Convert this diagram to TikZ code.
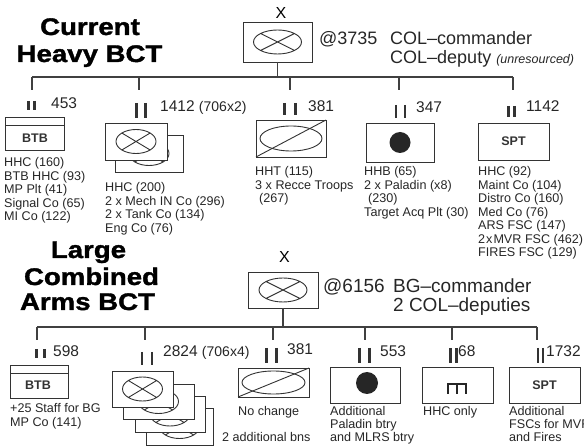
\documentclass[tikz,border=0pt]{standalone}
\usepackage{fontspec}
\setmainfont{Liberation Sans}
\newfontfamily\titlefont[FakeBold=1.5,FakeStretch=1.15]{Liberation Sans Bold}

\begin{document}
\begin{tikzpicture}[x=1pt,y=-1pt,
  unit/.style = {rectangle,draw=black!80,line width=0.9pt,fill=white,inner sep=0pt,outer sep=0pt},
  conn/.style = {draw=black!75,line width=1.1pt},
  bar/.style = {draw=black!80,line width=2.7pt},
  lbl/.style = {anchor=base west,inner sep=0pt,font=\fontsize{12.6}{13}\selectfont,text=black!85},
  num/.style = {anchor=base west,inner sep=0pt,font=\fontsize{15.5}{16}\selectfont,text=black!85},
  hdr/.style = {anchor=base west,inner sep=0pt,font=\fontsize{18}{20}\selectfont,text=black!85},
  ttl/.style = {anchor=base,inner sep=0pt,font=\titlefont\fontsize{24}{26}\selectfont},
  sym/.style = {inner sep=0pt,font=\bfseries\fontsize{12.5}{13}\selectfont,text=black!80},
  mech/.pic = {\draw[black!80,line width=0.9pt] (0,0) ellipse [x radius=20pt,y radius=12pt]
                 (45:20pt and 12pt) -- (225:20pt and 12pt) (135:20pt and 12pt) -- (315:20pt and 12pt);}]
\useasboundingbox (0,0) rectangle (584,446);

% titles
\node[ttl] (cur-a) at (90,35) {Current};
\node[ttl] (cur-b) at (89.5,62) {Heavy BCT};
\node[ttl] (lca-a) at (88.5,258) {Large};
\node[ttl] (lca-b) at (91.5,285) {Combined};
\node[ttl] (lca-c) at (87.5,310) {Arms BCT};

% current heavy BCT
\node[inner sep=0pt,font=\fontsize{16}{16}\selectfont] (x1) at (281,13) {X};
\node[unit,minimum width=69pt,minimum height=40pt] (hq1) at (277.5,42) {};
\pic[xscale=1.2] at (hq1) {mech};
\node[hdr] (hq1-n) at (319,45) {@3735};
\node[hdr] (hq1-c) at (390,45) {COL--commander};
\node[hdr] (hq1-d) at (390,64) {COL--deputy {\itshape\fontsize{12.5}{13}\selectfont(unresourced)}};

\coordinate (bus1) at (277.5,77);
\foreach \n/\x in {a/32, b/139, c/290, d/399, e/513}
    \coordinate (tk1\n) at (\x,90);
\draw[conn] (hq1.south) -- (bus1);
\draw[conn] (tk1a |- bus1) -- (tk1e |- bus1);
\foreach \n in {a,...,e}
    \draw[conn] (tk1\n |- bus1) -- (tk1\n);

\foreach \x/\y/\h/\d in {31.5/101/9/3, 141/103/15/4.5, 290/103/12/5.5, 400.5/105/13/4.5, 511.5/106/11/3}
    \draw[bar] (\x-\d,\y) -- ++(0,\h) (\x+\d,\y) -- ++(0,\h);

\node[num] (n453) at (51,109) {453};
\node[num] (n1412) at (160,112) {1412 {\fontsize{14}{14}\selectfont(706x2)}};
\node[num] (n381a) at (308,112) {381};
\node[num] (n347) at (416,113) {347};
\node[num] (n1142) at (526,112) {1142};

\node[unit,minimum width=59pt,minimum height=33pt] (btb1) at (34.5,133.5) {};
\draw[draw=black!80,line width=0.9pt] (btb1.west |- 0,125) -- (btb1.east |- 0,125);
\node[sym] (btb1-t) at (35,138) {BTB};

\node[unit,minimum width=68pt,minimum height=37pt] (mech1b) at (149,153.5) {};
\pic at (mech1b) {mech};
\node[unit,minimum width=62pt,minimum height=37pt] (mech1) at (136,141.5) {};
\pic at (mech1) {mech};

\node[unit,minimum width=70pt,minimum height=37pt] (cav1) at (291,138.5) {};
\draw[draw=black!80,line width=0.9pt] (cav1) ellipse [x radius=31pt,y radius=12.5pt];
\draw[draw=black!80,line width=0.9pt] (cav1.south west) -- (cav1.north east);

\node[unit,minimum width=68pt,minimum height=39pt] (fa1) at (400,142.5) {};
\fill[black!85] (fa1) circle [radius=10.5pt];

\node[unit,minimum width=71pt,minimum height=37pt] (spt1) at (513.5,141.5) {};
\node[sym] (spt1-t) at (spt1) {SPT};

\foreach \t [count=\j from 0] in {HHC (160), BTB HHC (93), MP Plt (41), Signal Co (65), MI Co (122)}
    \node[lbl] (btb1-\j) at (4,167+13.5*\j) {\t};
\foreach \t [count=\j from 0] in {HHC (200), 2 x Mech IN Co (296), 2 x Tank Co (134), Eng Co (76)}
    \node[lbl] (mech1-\j) at (105,192+13.5*\j) {\t};
\foreach \t [count=\j from 0] in {HHT (115), 3 x Recce Troops, \hspace*{4pt}(267)}
    \node[lbl] (cav1-\j) at (255,176+13.5*\j) {\t};
\foreach \t [count=\j from 0] in {HHB (65), 2 x Paladin (x8), \hspace*{4pt}(230), Target Acq Plt (30)}
    \node[lbl] (fa1-\j) at (364,176+13.5*\j) {\t};
\foreach \t [count=\j from 0] in {HHC (92), Maint Co (104), Distro Co (160), Med Co (76), ARS FSC (147), 2\kern1pt x\kern1pt MVR FSC (462), FIRES FSC (129)}
    \node[lbl] (spt1-\j) at (478,176+13.5*\j) {\t};

% large combined arms BCT
\node[inner sep=0pt,font=\fontsize{16}{16}\selectfont] (x2) at (284.5,257) {X};
\node[unit,minimum width=70pt,minimum height=36pt] (hq2) at (283,290) {};
\pic[xscale=1.2] at (hq2) {mech};
\node[hdr,font=\fontsize{19}{20}\selectfont] (hq2-n) at (323,293) {@6156};
\node[hdr,font=\fontsize{19}{20}\selectfont] (hq2-c) at (393,293) {BG--commander};
\node[hdr,font=\fontsize{19}{20}\selectfont] (hq2-d) at (393,312) {2 COL--deputies};

\coordinate (bus2) at (283,327);
\foreach \n/\x in {a/37, b/145, c/273, d/365, e/452, f/537}
    \coordinate (tk2\n) at (\x,340);
\draw[conn] (hq2.south) -- (bus2);
\draw[conn] (tk2a |- bus2) -- (tk2f |- bus2);
\foreach \n in {a,...,f}
    \draw[conn] (tk2\n |- bus2) -- (tk2\n);

\foreach \x/\y/\h/\d in {40.5/349/9/3.8, 147/352/13/5, 271.5/348/15/5, 364.5/348/15/5, 453.5/348/15/3, 540.5/348/15/2.5}
    \draw[bar] (\x-\d,\y) -- ++(0,\h) (\x+\d,\y) -- ++(0,\h);

\node[num] (n598) at (53,357) {598};
\node[num] (n2824) at (163,357) {2824 {\fontsize{14}{14}\selectfont(706x4)}};
\node[num] (n381b) at (287,355) {381};
\node[num] (n553) at (380,357) {553};
\node[num] (n68) at (458,357) {68};
\node[num] (n1732) at (546,357) {1732};

\node[unit,minimum width=58pt,minimum height=33pt] (btb2) at (39,381.5) {};
\draw[draw=black!80,line width=0.9pt] (btb2.west |- 0,373) -- (btb2.east |- 0,373);
\node[sym] (btb2-t) at (38,385.5) {BTB};

\node[unit,minimum width=67pt,minimum height=37pt] (mech2d) at (179.5,426.5) {};
\pic at (mech2d) {mech};
\node[unit,minimum width=70pt,minimum height=36pt] (mech2c) at (170,414) {};
\pic at (mech2c) {mech};
\node[unit,minimum width=71pt,minimum height=35pt] (mech2b) at (158.5,401.5) {};
\pic at (mech2b) {mech};
\node[unit,minimum width=61pt,minimum height=36pt] (mech2) at (142.5,389) {};
\pic at (mech2) {mech};

\node[unit,minimum width=71pt,minimum height=29pt] (cav2) at (273.5,382.5) {};
\draw[draw=black!80,line width=0.9pt] (cav2) ellipse [x radius=31.5pt,y radius=11.5pt];
\draw[draw=black!80,line width=0.9pt] (cav2.south west) -- (cav2.north east);

\node[unit,minimum width=70pt,minimum height=36pt] (fa2) at (365,385) {};
\fill[black!85] (367,383) circle [radius=11pt];

\node[unit,minimum width=71pt,minimum height=36pt] (hhc2) at (457.5,385) {};
\draw[draw=black!85,line width=2.2pt] (447,384) -- (467,384) (448,384) -- (448,394) (457,384) -- (457,394) (466,384) -- (466,394);

\node[unit,minimum width=71pt,minimum height=36pt] (spt2) at (544.5,385) {};
\node[sym] (spt2-t) at (spt2) {SPT};

\foreach \t [count=\j from 0] in {+25 Staff for BG, MP Co (141)}
    \node[lbl] (btb2-\j) at (10,413+14*\j) {\t};
\node[lbl] (cav2-0) at (238,416) {No change};
\node[lbl] (mech2-0) at (222,441) {2 additional bns};
\foreach \t [count=\j from 0] in {Additional, Paladin btry, and MLRS btry}
    \node[lbl] (fa2-\j) at (330,415+13.5*\j) {\t};
\node[lbl] (hhc2-0) at (423,415) {HHC only};
\foreach \t [count=\j from 0] in {Additional, FSCs for MVR, and Fires}
    \node[lbl] (spt2-\j) at (509,415+13.5*\j) {\t};
\end{tikzpicture}
\end{document}
